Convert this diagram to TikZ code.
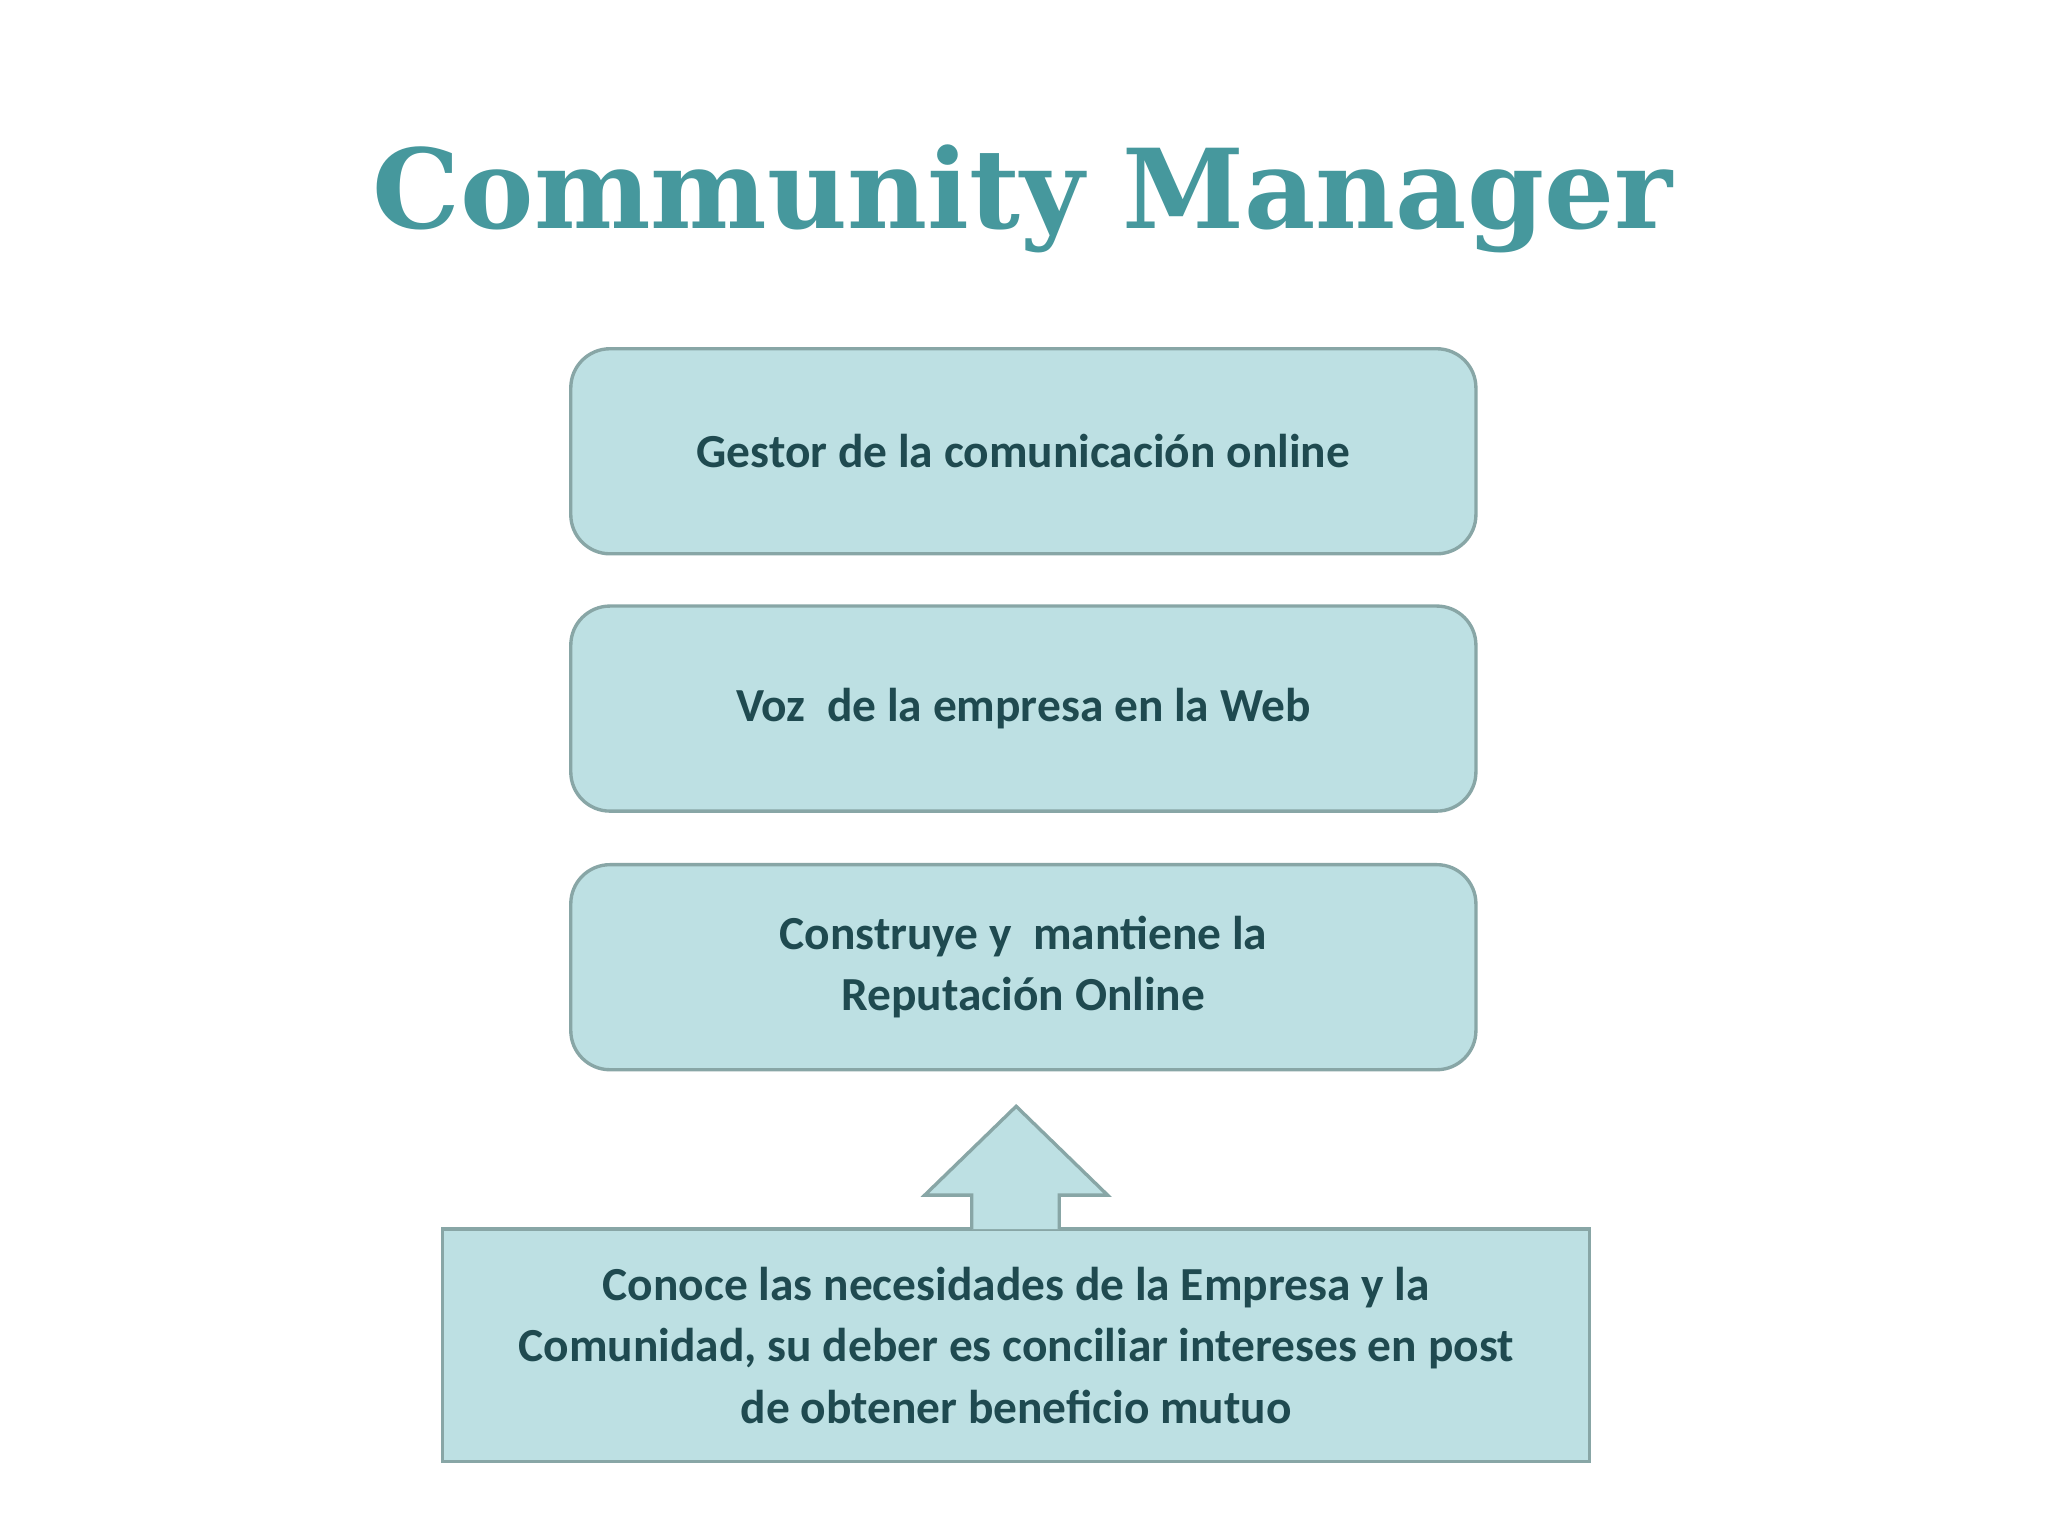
\documentclass[tikz,border=0pt]{standalone}
\usepackage{fontspec}
\setmainfont{Carlito}
\newfontfamily\titlefont{DejaVu Serif}
\definecolor{boxfill}{HTML}{BDE0E3}
\definecolor{boxline}{HTML}{88A6A6}
\definecolor{txt}{HTML}{1F4A50}
\definecolor{ttl}{HTML}{46989D}
\begin{document}
\begin{tikzpicture}[x=0.3mm,y=-0.3mm,
  rbox/.style={draw=boxline,fill=boxfill,line width=2.2pt,rounded corners=9mm,minimum width=693*0.3mm,minimum height=157*0.3mm,align=center,text=txt,font=\fontsize{31}{40}\selectfont\bfseries},
  sbox/.style={draw=boxline,fill=boxfill,line width=2.2pt,minimum width=878*0.3mm,minimum height=178*0.3mm,align=center,text=txt,font=\fontsize{31}{40}\selectfont\bfseries}]
\useasboundingbox[fill=white] (0,0) rectangle (1568,1176);
\node[text=ttl,font=\titlefont\fontsize{72}{80}\selectfont\bfseries] (title) at (783,152) {Community Manager};
\node[rbox] (b1) at (783.5,345.5) {Gestor de la comunicación online};
\node[rbox] (b2) at (783.5,542.5) {Voz\ \ de la empresa en la Web};
\node[rbox] (b3) at (783.5,740.5) {Construye y\ \ mantiene la\\Reputación Online};
\node[sbox] (b4) at (778,1030) {Conoce las necesidades de la Empresa y la\\Comunidad, su deber es conciliar intereses en post\\de obtener beneficio mutuo};
\draw[draw=boxline,fill=boxfill,line width=2.2pt] (744,941) -- (744,915) -- (708,915) -- (778,847) -- (848,915) -- (811,915) -- (811,941);
\end{tikzpicture}
\end{document}
